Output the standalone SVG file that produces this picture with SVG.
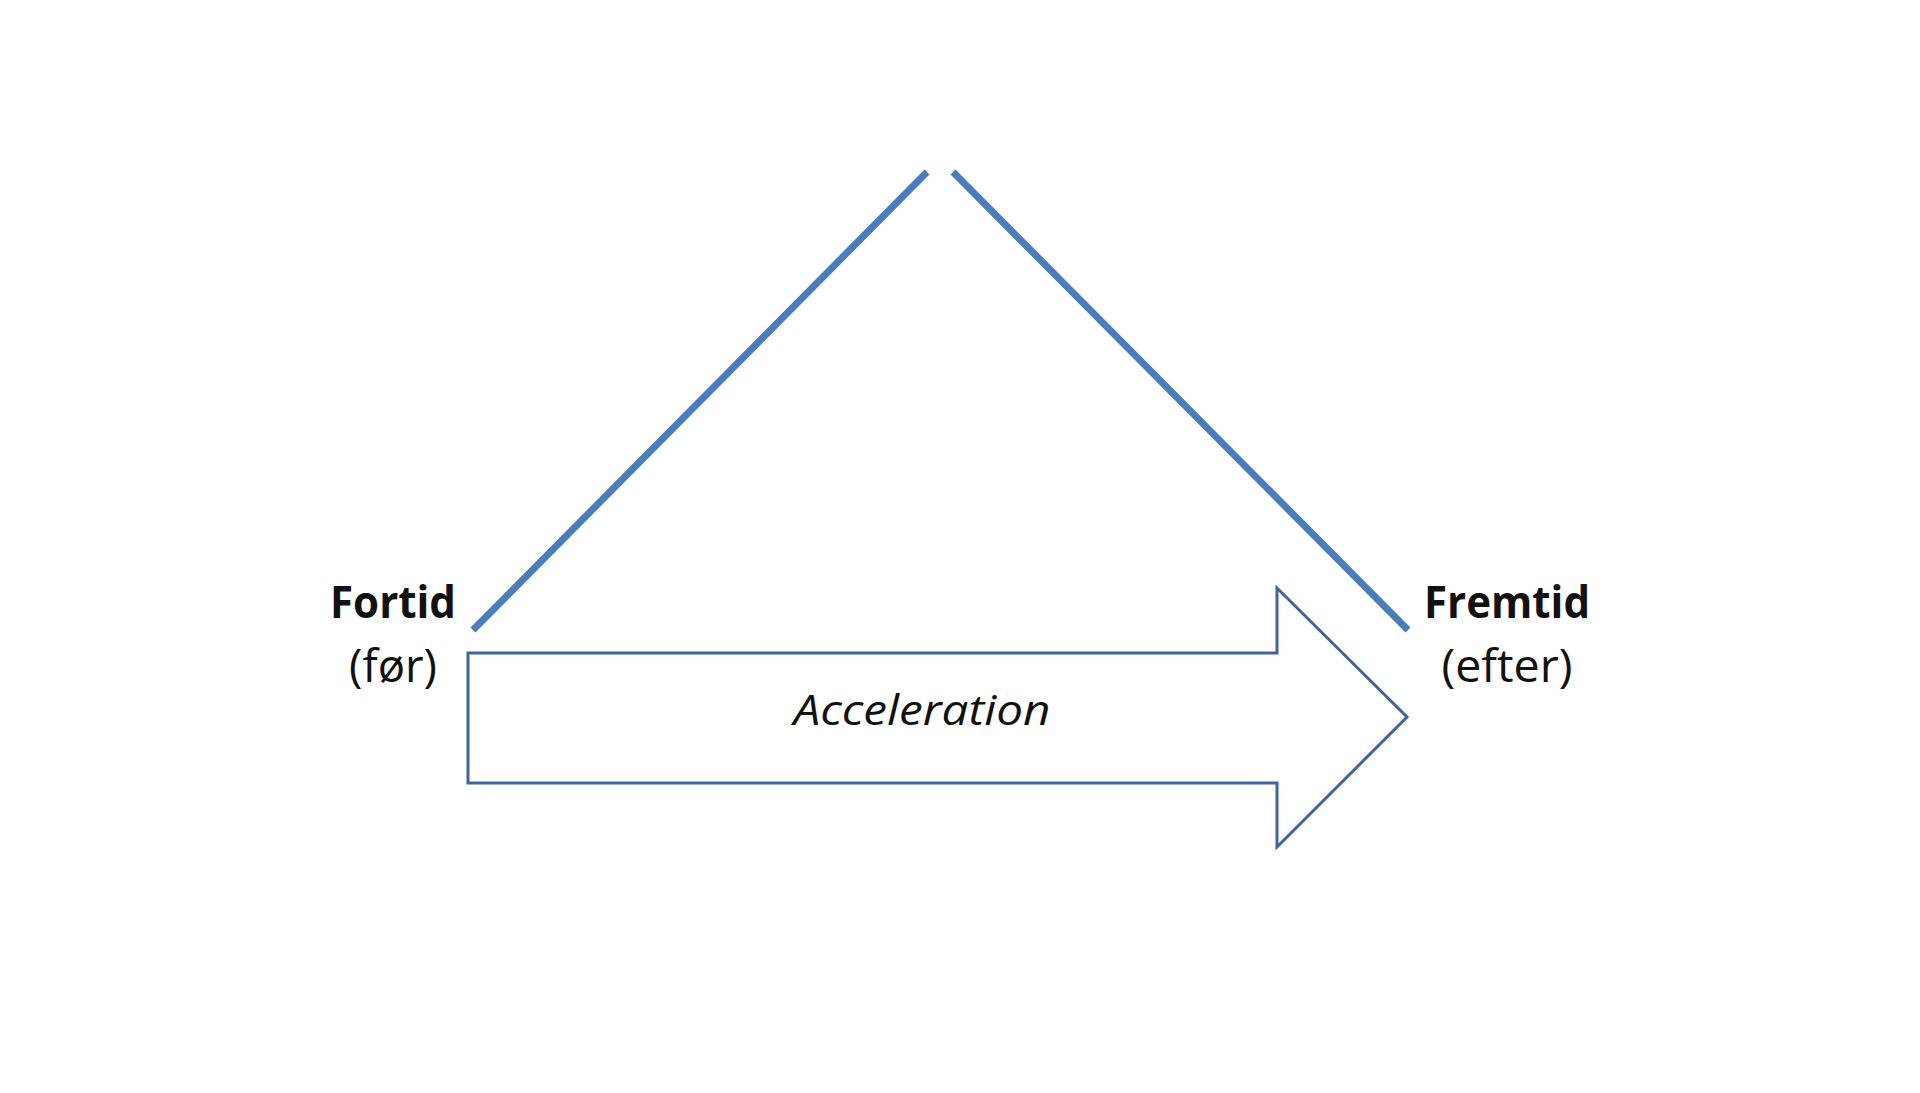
<svg xmlns="http://www.w3.org/2000/svg" width="1920" height="1093" viewBox="0 0 1920 1093">
<style>
.lbl{font-family:"Open Sans","Noto Sans",sans-serif;fill:#111;text-anchor:middle}
.b{font-weight:bold;font-size:44px}
.r{font-size:45px}
.i{font-size:42px;font-style:italic}
.leg{stroke:#4a7cc0;stroke-width:7;fill:none}
.arr{fill:#fff;stroke:#41659b;stroke-width:3}
</style>
<rect width="1920" height="1093" fill="#fff"/>
<g id="connectors">
<line class="leg" x1="473" y1="630" x2="927" y2="172"/>
<line class="leg" x1="953" y1="172" x2="1408" y2="630"/>
</g>
<g id="arrow">
<path class="arr" d="M468 653 H1277 V588 L1407 717 L1277 847 V783 H468 Z"/>
<text class="lbl i" x="922" y="725" textLength="257" lengthAdjust="spacingAndGlyphs">Acceleration</text>
</g>
<g id="fortid">
<text class="lbl b" x="393" y="618" textLength="126" lengthAdjust="spacingAndGlyphs">Fortid</text>
<text class="lbl r" x="393" y="682" textLength="88" lengthAdjust="spacingAndGlyphs">(før)</text>
</g>
<g id="fremtid">
<text class="lbl b" x="1507" y="618" textLength="166" lengthAdjust="spacingAndGlyphs">Fremtid</text>
<text class="lbl r" x="1507" y="682" textLength="131" lengthAdjust="spacingAndGlyphs">(efter)</text>
</g>
</svg>
